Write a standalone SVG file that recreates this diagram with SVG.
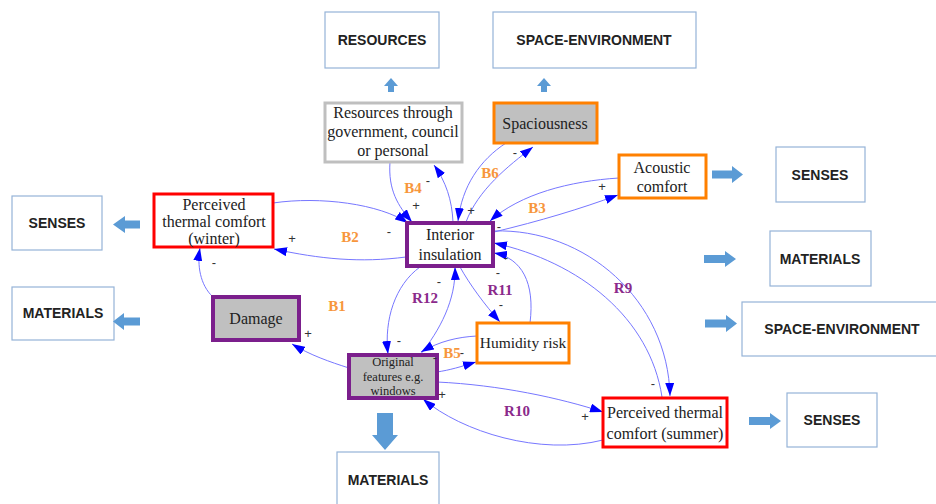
<svg xmlns="http://www.w3.org/2000/svg" width="936" height="504" viewBox="0 0 936 504">
<defs>
<marker id="ah" viewBox="0 0 13 9" refX="13" refY="4.5" markerWidth="13" markerHeight="9" markerUnits="userSpaceOnUse" orient="auto"><path d="M0,0 L13,4.5 L0,9 z" fill="#0000ff"/></marker>
<style>
.ob{fill:#fff;stroke:#95b3d7;stroke-width:1.2}
.ot{font-family:"Liberation Sans",Arial,sans-serif;font-weight:bold;font-size:14px;fill:#222;text-anchor:middle}
.ba{fill:#5b9bd5}
.nt{font-family:"Liberation Serif","Times New Roman",serif;font-size:16px;fill:#222;text-anchor:middle}
.red{fill:#fff;stroke:#ff0000;stroke-width:3}
.pur{stroke:#7b1f8c;stroke-width:4}
.org{stroke:#ff8000;stroke-width:3}
.gry{fill:#c0c0c0}
.e{fill:none;stroke:#7777ff;stroke-width:1;marker-end:url(#ah)}
.b{font-family:"Liberation Serif","Times New Roman",serif;font-weight:bold;font-size:15px;fill:#f7963c;text-anchor:middle}
.r{font-family:"Liberation Serif","Times New Roman",serif;font-weight:bold;font-size:15px;fill:#8b2a8b;text-anchor:middle}
.s{font-family:"Liberation Sans",Arial,sans-serif;font-size:13px;fill:#333;text-anchor:middle}
</style>
</defs>

<g id="outer">
<g id="resources-out"><rect class="ob" x="325" y="12" width="114" height="56"/><text class="ot" x="382" y="45">RESOURCES</text></g>
<g id="space-top"><rect class="ob" x="493" y="12" width="203" height="56"/><text class="ot" x="594" y="45">SPACE-ENVIRONMENT</text></g>
<g id="senses-left"><rect class="ob" x="12" y="196" width="90" height="54"/><text class="ot" x="57" y="228">SENSES</text></g>
<g id="materials-left"><rect class="ob" x="12" y="287" width="102" height="53"/><text class="ot" x="63" y="318">MATERIALS</text></g>
<g id="senses-right1"><rect class="ob" x="776" y="147" width="89" height="55"/><text class="ot" x="820" y="180">SENSES</text></g>
<g id="materials-right"><rect class="ob" x="770" y="231" width="101" height="55"/><text class="ot" x="820" y="264">MATERIALS</text></g>
<g id="space-right"><rect class="ob" x="742" y="302" width="196" height="54"/><text class="ot" x="842" y="334">SPACE-ENVIRONMENT</text></g>
<g id="senses-right2"><rect class="ob" x="787" y="393" width="90" height="54"/><text class="ot" x="832" y="425">SENSES</text></g>
<g id="materials-bottom"><rect class="ob" x="337" y="452" width="102" height="60"/><text class="ot" x="388" y="485">MATERIALS</text></g>
</g>

<g id="block-arrows">
<path class="ba" d="M391,78 L398,86 L394,86 L394,92 L388,92 L388,86 L384,86 z"/>
<path class="ba" d="M544,78 L551,86 L547,86 L547,92 L541,92 L541,86 L537,86 z"/>
<path class="ba" d="M113,224.5 L125,216 L125,220.5 L140,220.5 L140,228.5 L125,228.5 L125,233 z"/>
<path class="ba" d="M113,321.5 L124,313 L124,317.5 L140,317.5 L140,325.5 L124,325.5 L124,330 z"/>
<path class="ba" d="M743,174.5 L732,166 L732,170.5 L712,170.5 L712,178.5 L732,178.5 L732,183 z"/>
<path class="ba" d="M736,259 L725,251 L725,255 L704,255 L704,263 L725,263 L725,267 z"/>
<path class="ba" d="M737,323.5 L726,315 L726,319.5 L705,319.5 L705,327.5 L726,327.5 L726,332 z"/>
<path class="ba" d="M781,421 L770,413 L770,417 L749,417 L749,425 L770,425 L770,429 z"/>
<path class="ba" d="M385,450 L398,435 L393,435 L393,413 L377,413 L377,435 L372,435 z"/>
</g>

<g id="connectors">
<path class="e" d="M273,203 C320,196 380,204 408,223"/>
<path class="e" d="M406,257 C360,263 320,259 274,249"/>
<path class="e" d="M390,162 C388,190 398,206 412,222"/>
<path class="e" d="M453,222 C452,200 446,182 434,165"/>
<path class="e" d="M506,143 C480,160 462,186 458,221"/>
<path class="e" d="M466,222 C478,190 508,166 533,147"/>
<path class="e" d="M619,178 C570,181 520,194 490,221"/>
<path class="e" d="M494,232 C540,221 580,209 618,195"/>
<path class="e" d="M494,231 C585,228 668,300 670,396"/>
<path class="e" d="M662,397 C650,318 580,262 494,243"/>
<path class="e" d="M460,267 C470,285 485,305 500,322"/>
<path class="e" d="M530,323 C535,283 522,258 494,253"/>
<path class="e" d="M420,267 C395,285 384,320 388,354"/>
<path class="e" d="M420,355 C440,330 456,300 455,267"/>
<path class="e" d="M477,336 C458,337 440,341 421,352"/>
<path class="e" d="M437,372 C450,370 460,367 476,362"/>
<path class="e" d="M213,297 C200,285 197,265 200,248"/>
<path class="e" d="M349,368 C330,362 310,355 292,344"/>
<path class="e" d="M437,382 C500,385 560,398 603,412"/>
<path class="e" d="M603,440 C540,456 462,432 423,399"/>
</g>

<g id="n-resources"><rect x="325" y="103" width="137" height="59" fill="#fff" stroke="#bfbfbf" stroke-width="3"/>
<text class="nt" x="393" y="118">Resources through</text><text class="nt" x="393" y="137">government, council</text><text class="nt" x="393" y="156">or personal</text></g>
<g id="n-spaciousness"><rect class="org gry" x="494" y="103" width="103" height="40"/><text class="nt" x="545" y="129">Spaciousness</text></g>
<g id="n-acoustic"><rect class="org" fill="#fff" x="619" y="155" width="87" height="43"/><text class="nt" x="662" y="173">Acoustic</text><text class="nt" x="662" y="192">comfort</text></g>
<g id="n-winter"><rect class="red" x="154" y="194" width="119" height="53"/><text class="nt" x="214" y="210">Perceived</text><text class="nt" x="214" y="227">thermal comfort</text><text class="nt" x="214" y="244">(winter)</text></g>
<g id="n-insulation"><rect class="pur" fill="#fff" x="407" y="223" width="86" height="43"/><text class="nt" x="450" y="240">Interior</text><text class="nt" x="450" y="260">insulation</text></g>
<g id="n-damage"><rect class="pur gry" x="213" y="297" width="86" height="43"/><text class="nt" x="256" y="324">Damage</text></g>
<g id="n-original"><rect class="pur gry" x="349" y="355" width="88" height="43"/><text class="nt" x="393" y="366" style="font-size:12.5px">Original</text><text class="nt" x="393" y="380.5" style="font-size:12.5px">features e.g.</text><text class="nt" x="393" y="395" style="font-size:12.5px">windows</text></g>
<g id="n-humidity"><rect class="org" fill="#fff" x="477" y="323" width="92" height="40"/><text class="nt" x="523" y="348" style="font-size:15.5px">Humidity risk</text></g>
<g id="n-summer"><rect class="red" x="603" y="398" width="124" height="49"/><text class="nt" x="665" y="418">Perceived thermal</text><text class="nt" x="665" y="439">comfort (summer)</text></g>

<g id="labels">
<text class="b" x="413" y="193">B4</text><text class="s" x="428" y="185">-</text>
<text class="s" x="416" y="210">+</text>
<text class="s" x="389" y="236">-</text>
<text class="s" x="292" y="243">+</text>
<text class="b" x="350" y="242">B2</text>
<text class="s" x="471" y="215">+</text>
<text class="b" x="490" y="178">B6</text>
<text class="s" x="515" y="157">-</text>
<text class="s" x="602" y="191">+</text>
<text class="b" x="537" y="213">B3</text>
<text class="s" x="499" y="231">-</text>
<text class="s" x="506" y="262">-</text>
<text class="s" x="498" y="277">-</text>
<text class="r" x="500" y="295">R11</text>
<text class="s" x="501" y="309">-</text>
<text class="r" x="425" y="303">R12</text>
<text class="s" x="439" y="286">-</text>
<text class="s" x="399" y="345">-</text>
<text class="b" x="337" y="311">B1</text>
<text class="s" x="308" y="338">+</text>
<text class="s" x="214" y="267">-</text>
<text class="b" x="452" y="358">B5</text><text class="s" x="462" y="357">-</text>
<text class="s" x="435" y="362">-</text>
<text class="s" x="442" y="399">+</text>
<text class="r" x="517" y="416">R10</text>
<text class="s" x="585" y="421">+</text>
<text class="r" x="623" y="293">R9</text>
<text class="s" x="653" y="388">-</text>
</g>
</svg>
